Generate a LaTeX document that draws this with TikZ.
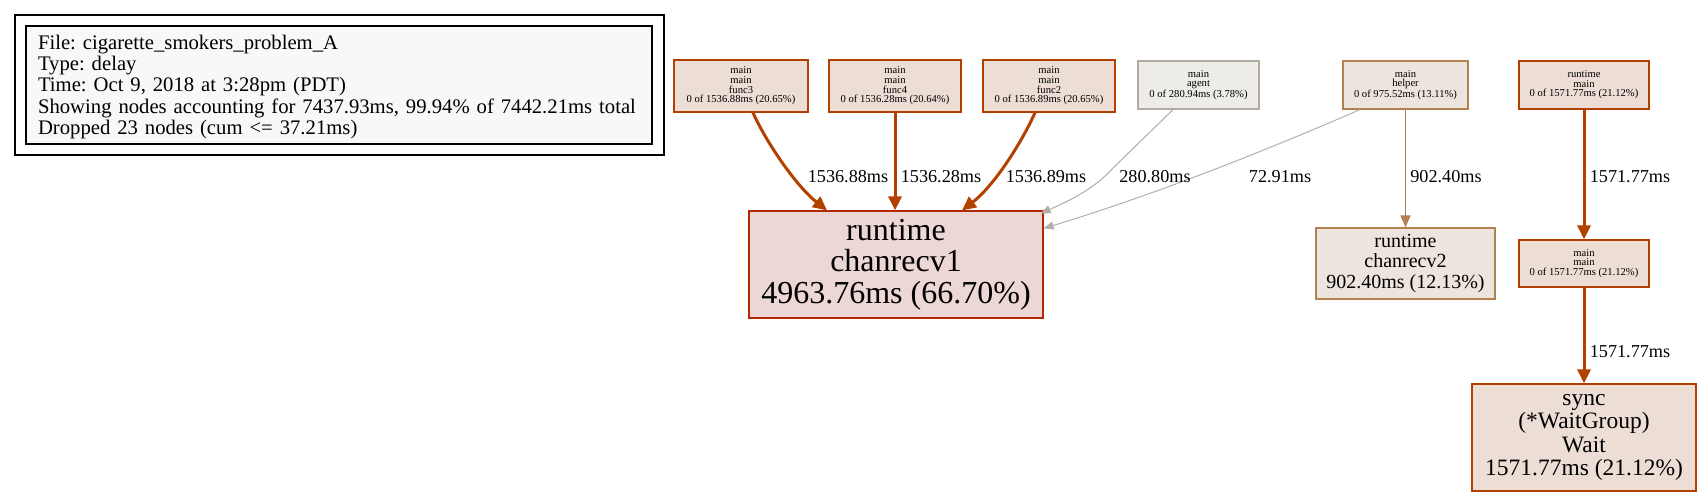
\documentclass[tikz,border=0pt]{standalone}
\usepackage{fontspec}
\setmainfont{Liberation Serif}
\usetikzlibrary{arrows.meta}
\definecolor{legfill}{HTML}{F8F8F8}
\definecolor{hotfill}{HTML}{EDD7D5}
\definecolor{hotdraw}{HTML}{B22800}
\definecolor{warmfill}{HTML}{EDDED5}
\definecolor{warmdraw}{HTML}{B24100}
\definecolor{grayfill}{HTML}{EDECE9}
\definecolor{graydraw}{HTML}{B2ACA0}
\definecolor{helpfill}{HTML}{EDE4DD}
\definecolor{helpdraw}{HTML}{B2814F}
\definecolor{paleedge}{HTML}{B2B0AA}
\frenchspacing
\begin{document}
\begin{tikzpicture}[x=1pt,y=-1pt,
  pbox/.style={draw, rectangle, inner sep=0pt, align=center},
  smallbox/.style={pbox, line width=1.2pt, font=\fontsize{10.6}{9.6}\selectfont},
  elabel/.style={inner sep=0pt, font=\fontsize{18.2}{20}\selectfont},
  heavy/.style={draw=warmdraw, line width=3pt, -{Triangle[length=14pt,width=13pt]}},
  light/.style={line width=1pt, -{Triangle[length=10pt,width=8pt]}}
]
\useasboundingbox (0,0) rectangle (1701,496);
% legend
\node[draw=black, line width=1.2pt, minimum width=649pt, minimum height=140pt, inner sep=0pt] (legendframe) at (339.5,85) {};
\node[draw=black, fill=legfill, line width=1.2pt, minimum width=626pt, minimum height=118pt, inner sep=0pt] (legend) at (339,85) {};
\node[inner sep=0pt, text width=640pt, align=left, font=\fontsize{20.7}{21.3}\selectfont] (legendtext) at (358,87)
  {File: cigarette\_smokers\_problem\_A\\Type: delay\\Time: Oct 9, 2018 at 3:28pm (PDT)\\Showing nodes accounting for 7437.93ms, 99.94\% of 7442.21ms total\\Dropped 23 nodes (cum <= 37.21ms)};
% small top nodes
\node[smallbox, fill=warmfill, draw=warmdraw, minimum width=134pt, minimum height=52pt] (func3) at (741,86) {main\\main\\func3\\0 of 1536.88ms (20.65\%)};
\node[smallbox, fill=warmfill, draw=warmdraw, minimum width=132pt, minimum height=52pt] (func4) at (895,86) {main\\main\\func4\\0 of 1536.28ms (20.64\%)};
\node[smallbox, fill=warmfill, draw=warmdraw, minimum width=132pt, minimum height=52pt] (func2) at (1049,86) {main\\main\\func2\\0 of 1536.89ms (20.65\%)};
\node[smallbox, fill=grayfill, draw=graydraw, minimum width=121pt, minimum height=48pt] (agent) at (1198.5,85) {main\\agent\\0 of 280.94ms (3.78\%)};
\node[smallbox, fill=helpfill, draw=helpdraw, minimum width=125pt, minimum height=48pt] (helper) at (1405.5,85) {main\\helper\\0 of 975.52ms (13.11\%)};
\node[smallbox, fill=warmfill, draw=warmdraw, minimum width=130pt, minimum height=48pt] (rtmain) at (1584,85) {runtime\\main\\0 of 1571.77ms (21.12\%)};
% lower nodes
\node[pbox, fill=hotfill, draw=hotdraw, line width=1.2pt, minimum width=294pt, minimum height=107pt, font=\fontsize{32}{31.5}\selectfont] (chanrecv1) at (896,264.5) {runtime\\chanrecv1\\4963.76ms (66.70\%)};
\node[pbox, fill=helpfill, draw=helpdraw, line width=1.2pt, minimum width=179pt, minimum height=71pt, font=\fontsize{20}{20.5}\selectfont] (chanrecv2) at (1405.5,263.5) {runtime\\chanrecv2\\902.40ms (12.13\%)};
\node[smallbox, fill=warmfill, draw=warmdraw, minimum width=130pt, minimum height=47pt] (mainmain) at (1584,263.5) {main\\main\\0 of 1571.77ms (21.12\%)};
\node[pbox, fill=warmfill, draw=warmdraw, line width=1.2pt, minimum width=224pt, minimum height=107pt, font=\fontsize{23.5}{23.3}\selectfont] (sync) at (1584,437.5) {sync\\(*WaitGroup)\\Wait\\1571.77ms (21.12\%)};
% edges
\draw[heavy] ([xshift=12pt]func3.south) .. controls (765,140) and (795,185) .. ([xshift=-69pt]chanrecv1.north);
\draw[heavy] (func4.south) -- (chanrecv1.north -| func4.south);
\draw[heavy] ([xshift=-14pt]func2.south) .. controls (1023,140) and (995,185) .. ([xshift=66pt]chanrecv1.north);
\draw[light, draw=graydraw] ([xshift=-25.5pt]agent.south) -- (1113,168) .. controls (1100,182) and (1085,194) .. ([xshift=-3pt,yshift=-3pt]chanrecv1.north east);
\draw[light, draw=paleedge] ([xshift=-45.5pt]helper.south) .. controls (1290,140) and (1170,190) .. ([yshift=-18pt]chanrecv1.north east);
\draw[draw=helpdraw, line width=1.7pt, -{Triangle[length=12pt,width=10pt]}] (helper.south) -- (chanrecv2.north);
\draw[heavy] (rtmain.south) -- (mainmain.north);
\draw[heavy] (mainmain.south) -- (sync.north);
% edge labels
\node[elabel] (l1) at (848,177) {1536.88ms};
\node[elabel] (l2) at (941,177) {1536.28ms};
\node[elabel] (l3) at (1046,177) {1536.89ms};
\node[elabel] (l4) at (1155,177) {280.80ms};
\node[elabel] (l5) at (1280,177) {72.91ms};
\node[elabel] (l6) at (1446,177) {902.40ms};
\node[elabel] (l7) at (1630,177) {1571.77ms};
\node[elabel] (l8) at (1630,352) {1571.77ms};
\end{tikzpicture}
\end{document}
